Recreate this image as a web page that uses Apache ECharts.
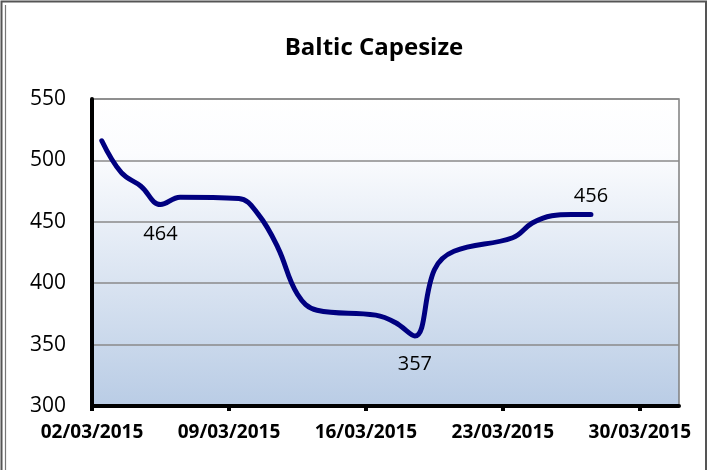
<!DOCTYPE html>
<html><head><meta charset="utf-8">
<script src="https://cdn.jsdelivr.net/npm/echarts@6/dist/echarts.min.js"></script>
<style>html,body{margin:0;padding:0;background:#fff}#c{width:708px;height:470px}</style>
</head><body><div id="c"></div>
<script>
const chartTitle = 'Baltic Capesize';
const dates = ['02/03/2015','03/03/2015','04/03/2015','05/03/2015','06/03/2015',
               '09/03/2015','10/03/2015','11/03/2015','12/03/2015','13/03/2015',
               '16/03/2015','17/03/2015','18/03/2015','19/03/2015','20/03/2015',
               '23/03/2015','24/03/2015','25/03/2015','26/03/2015','27/03/2015'];
const values = [516, 490, 479, 464, 470,
                469, 456, 429, 391, 378,
                374, 368, 357, 411, 426,
                437, 449, 455, 456, 456];
const tickLabels = ['02/03/2015','09/03/2015','16/03/2015','23/03/2015','30/03/2015'];
const labelPos = {3: ['bottom', 20], 12: ['bottom', 18], 19: ['top', 8]};

const FONT = 'Open Sans';
function dayOffset(s) {
  const [d, m, y] = s.split('/').map(Number);
  return Math.round((Date.UTC(y, m - 1, d) - Date.UTC(2015, 2, 2)) / 86400000);
}
const seriesData = values.map((v, i) => {
  const item = { value: [dayOffset(dates[i]) + 0.5, v] };
  if (labelPos[i]) {
    item.label = { show: true, position: labelPos[i][0], distance: labelPos[i][1],
      fontFamily: FONT, fontSize: 20, color: '#000', formatter: String(v) };
  }
  return item;
});

const chart = echarts.init(document.getElementById('c'), null, {renderer: 'canvas'});
chart.setOption({
  animation: false,
  backgroundColor: '#fff',
  title: {
    text: chartTitle, left: 369, top: 31, textAlign: 'center',
    textStyle: { fontFamily: FONT, fontSize: 24, fontWeight: 'bold', color: '#000' }
  },
  grid: {
    left: 92, right: 29, top: 99, bottom: 64, show: true,
    borderColor: '#7f7f7f', borderWidth: 1.5,
    backgroundColor: { type: 'linear', x: 0, y: 0, x2: 0, y2: 1,
      colorStops: [{offset: 0, color: '#ffffff'}, {offset: 0.18, color: '#fbfcfe'}, {offset: 1, color: '#b9cce5'}] }
  },
  xAxis: {
    type: 'value', min: 0, max: 30, interval: 7,
    axisLine: { show: true, onZero: false, lineStyle: { color: '#000', width: 4 } },
    axisTick: { show: true, length: 5, lineStyle: { color: '#000', width: 4 } },
    splitLine: { show: false },
    axisLabel: { margin: 17, fontFamily: FONT, fontSize: 19, fontWeight: 'bold', color: '#000',
      formatter: v => (v % 7 === 0 ? (tickLabels[v / 7] || '') : ''), showMaxLabel: false }
  },
  yAxis: {
    type: 'value', min: 300, max: 550, interval: 50,
    axisLine: { show: true, lineStyle: { color: '#000', width: 4 } },
    axisTick: { show: false },
    splitLine: { show: true, lineStyle: { color: '#8a8a8a', width: 1.5 } },
    axisLabel: { margin: 26, fontFamily: FONT, fontSize: 21, color: '#000' }
  },
  series: [{
    type: 'line', data: seriesData, smooth: 0.4,
    showSymbol: true, symbol: 'circle', symbolSize: 0.1,
    itemStyle: { color: '#000080' },
    lineStyle: { color: '#000080', width: 5, cap: 'round', join: 'round' },
    label: { show: false },
    z: 5
  }],
  graphic: [
    { type: 'rect', shape: { x: 1.5, y: 1.5, width: 704.5, height: 480 }, style: { fill: 'none', stroke: '#555', lineWidth: 2 }, silent: true },
    { type: 'line', shape: { x1: 5.5, y1: 5, x2: 5.5, y2: 470 }, style: { stroke: '#777', lineWidth: 1.2 }, silent: true }
  ]
});
</script></body></html>
